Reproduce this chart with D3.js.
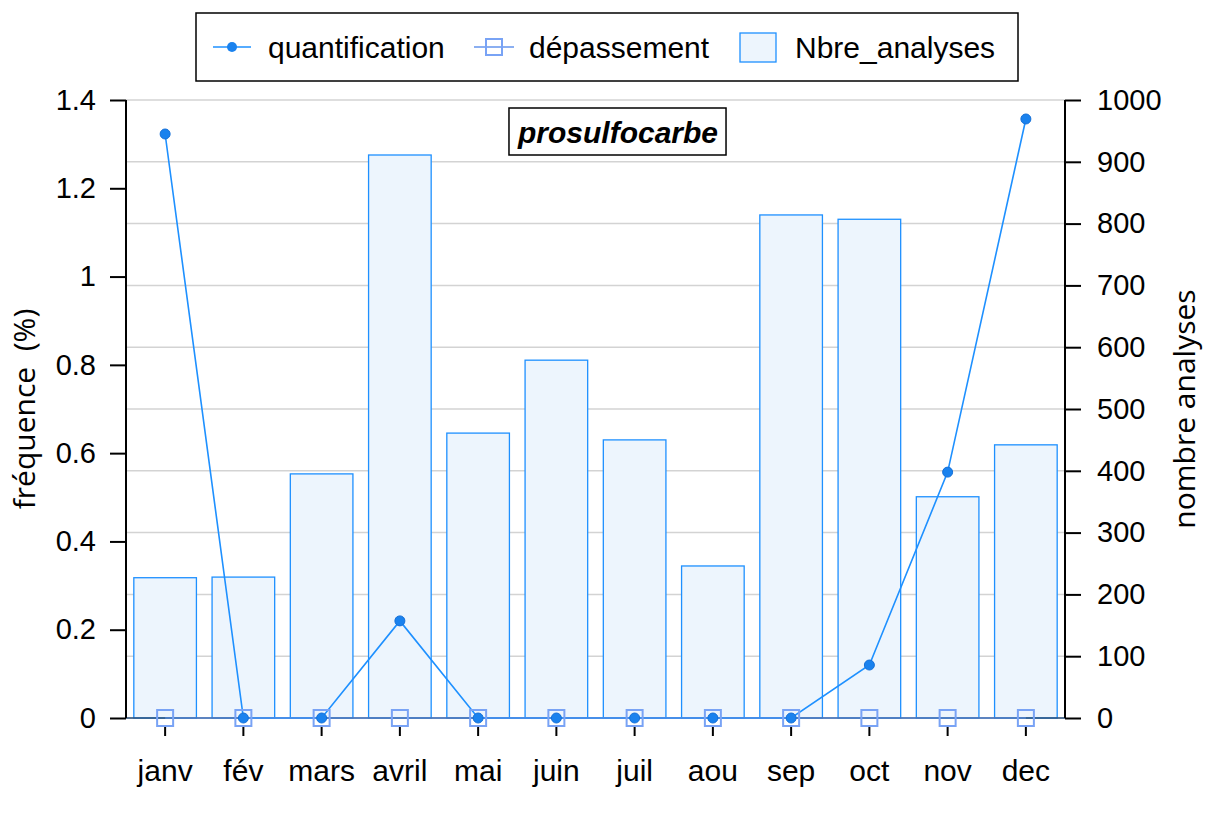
<!DOCTYPE html>
<html>
<head>
<meta charset="utf-8">
<script src="https://cdn.jsdelivr.net/npm/d3@7"></script>
<style>
  body { margin: 0; background: #fff; }
  text { font-family: "Liberation Sans", Arial, sans-serif; fill: #000; }
  .axis-title { font-family: "Open Sans", "Noto Sans", sans-serif; font-size: 30px; }
</style>
</head>
<body>
<svg id="chart" width="1225" height="835"></svg>
<script>
// data
const months = ['janv', 'fév', 'mars', 'avril', 'mai', 'juin', 'juil', 'aou', 'sep', 'oct', 'nov', 'dec'];
const nbreAnalyses = [227, 228, 395, 911, 461, 579, 450, 246, 814, 807, 358, 442];
const quantification = [1.323, 0, 0, 0.22, 0, 0, 0, 0, 0, 0.12, 0.557, 1.357];
const depassement = [0, 0, 0, 0, 0, 0, 0, 0, 0, 0, 0, 0];
const leftTicks = [0, 0.2, 0.4, 0.6, 0.8, 1, 1.2, 1.4];
const rightTicks = [0, 100, 200, 300, 400, 500, 600, 700, 800, 900, 1000];
const title = 'prosulfocarbe';

const svg = d3.select('#chart');
const pLeft = 126, pRight = 1065, pTop = 100, pBottom = 718;

let x = d3.scaleBand().domain(months).range([pLeft, pRight]).paddingInner(0.2).paddingOuter(0.1);
let yL = d3.scaleLinear().domain([0, 1.4]).range([pBottom, pTop]);
let yR = d3.scaleLinear().domain([0, 1000]).range([pBottom, pTop]);
let cx = d => x(d) + x.bandwidth() / 2;

const blue = '#1e90ff';
const sqColor = '#79a3f5';

// gridlines on the right axis ticks
svg.append('g')
    .selectAll('line')
    .data(rightTicks)
    .enter()
    .append('line')
    .attr('x1', pLeft).attr('x2', pRight)
    .attr('y1', d => yR(d)).attr('y2', d => yR(d))
    .attr('stroke', '#d3d3d3')
    .attr('stroke-width', 1.5);

// bars
svg.append('g')
    .selectAll('rect')
    .data(months)
    .enter()
    .append('rect')
    .attr('x', d => x(d))
    .attr('y', (d, i) => yR(nbreAnalyses[i]))
    .attr('width', x.bandwidth())
    .attr('height', (d, i) => pBottom - yR(nbreAnalyses[i]))
    .attr('fill', '#edf5fd')
    .attr('stroke', blue)
    .attr('stroke-width', 1.3);

// baseline
svg.append('line')
    .attr('x1', pLeft).attr('x2', pRight)
    .attr('y1', pBottom).attr('y2', pBottom)
    .attr('stroke', '#2a4f7a').attr('stroke-width', 1.3);

// left axis
let axL = svg.append('g')
    .attr('transform', 'translate(' + pLeft + ',0)')
    .call(d3.axisLeft(yL).tickValues(leftTicks).tickSize(16).tickPadding(14)
        .tickFormat(d => String(d)));
// right axis
let axR = svg.append('g')
    .attr('transform', 'translate(' + pRight + ',0)')
    .call(d3.axisRight(yR).tickValues(rightTicks).tickSize(16).tickPadding(16)
        .tickFormat(d => String(d)));
[axL, axR].forEach(a => {
    a.select('.domain').attr('d', 'M0,' + pTop + 'V' + pBottom)
        .attr('stroke', '#000').attr('stroke-width', 2);
    a.selectAll('.tick line').attr('stroke', '#000').attr('stroke-width', 2);
    a.selectAll('.tick text')
        .style('font-family', '"Liberation Sans", Arial, sans-serif')
        .style('font-size', '29px');
});

// month ticks and labels
let xg = svg.append('g');
xg.selectAll('line')
    .data(months)
    .enter()
    .append('line')
    .attr('x1', cx).attr('x2', cx)
    .attr('y1', pBottom + 9).attr('y2', pBottom + 18)
    .attr('stroke', '#000').attr('stroke-width', 2);
xg.selectAll('text')
    .data(months)
    .enter()
    .append('text')
    .attr('x', cx)
    .attr('y', 781)
    .attr('text-anchor', 'middle')
    .style('font-size', '30px')
    .text(d => d);

// quantification line
let line = d3.line().x(d => cx(d.m)).y(d => yL(d.v));
let qData = months.map((m, i) => ({m: m, v: quantification[i]}));
svg.append('path')
    .datum(qData)
    .attr('d', line)
    .attr('fill', 'none')
    .attr('stroke', blue)
    .attr('stroke-width', 1.6);

// dépassement squares
let dData = months.map((m, i) => ({m: m, v: depassement[i]}));
svg.append('path')
    .datum(dData)
    .attr('d', line)
    .attr('fill', 'none')
    .attr('stroke', '#6495ed')
    .attr('stroke-width', 1.2);
svg.append('g')
    .selectAll('rect')
    .data(dData)
    .enter()
    .append('rect')
    .attr('x', d => cx(d.m) - 8)
    .attr('y', d => yL(d.v) - 8)
    .attr('width', 16).attr('height', 16)
    .attr('fill', 'none')
    .attr('stroke', sqColor)
    .attr('stroke-width', 2);

svg.append('g')
    .selectAll('circle')
    .data(qData)
    .enter()
    .append('circle')
    .attr('cx', d => cx(d.m))
    .attr('cy', d => yL(d.v))
    .attr('r', 5)
    .attr('fill', '#1a82ee')
    .attr('stroke', '#1570d8')
    .attr('stroke-width', 1);

// title box
let tg = svg.append('g');
let tt = tg.append('text')
    .attr('x', 618).attr('y', 143)
    .attr('text-anchor', 'middle')
    .style('font-size', '30px')
    .style('font-weight', 'bold')
    .style('font-style', 'italic')
    .text(title);
let bb = tt.node().getBBox();
tg.insert('rect', 'text')
    .attr('x', bb.x - 8).attr('y', 108)
    .attr('width', bb.width + 16).attr('height', 47)
    .attr('fill', '#fff')
    .attr('stroke', '#000').attr('stroke-width', 1.5);

// axis titles
svg.append('text')
    .attr('class', 'axis-title')
    .attr('transform', 'translate(35,409) rotate(-90)')
    .attr('text-anchor', 'middle')
    .text('fréquence\u00a0\u00a0(%)');
svg.append('text')
    .attr('class', 'axis-title')
    .attr('transform', 'translate(1195,409) rotate(-90)')
    .attr('text-anchor', 'middle')
    .text('nombre analyses');

// legend
let lg = svg.append('g');
lg.append('rect')
    .attr('x', 196).attr('y', 13)
    .attr('width', 822).attr('height', 68)
    .attr('fill', '#fff')
    .attr('stroke', '#000').attr('stroke-width', 1.5);
let ly = 47;
lg.append('line').attr('x1', 213).attr('x2', 251).attr('y1', ly).attr('y2', ly)
    .attr('stroke', blue).attr('stroke-width', 1.6);
lg.append('circle').attr('cx', 232).attr('cy', ly).attr('r', 5).attr('fill', '#1a82ee');
lg.append('text').attr('x', 268).attr('y', ly + 11).style('font-size', '30px').text('quantification');
lg.append('line').attr('x1', 474).attr('x2', 514).attr('y1', ly).attr('y2', ly)
    .attr('stroke', '#6495ed').attr('stroke-width', 1.4);
lg.append('rect').attr('x', 486).attr('y', ly - 8).attr('width', 16).attr('height', 16)
    .attr('fill', 'none').attr('stroke', sqColor).attr('stroke-width', 2);
lg.append('text').attr('x', 529).attr('y', ly + 11).style('font-size', '30px').text('dépassement');
lg.append('rect').attr('x', 740).attr('y', ly - 14).attr('width', 36).attr('height', 29)
    .attr('fill', '#edf5fd').attr('stroke', blue).attr('stroke-width', 1.3);
lg.append('text').attr('x', 795).attr('y', ly + 11).style('font-size', '30px').text('Nbre_analyses');
</script>
</body>
</html>
